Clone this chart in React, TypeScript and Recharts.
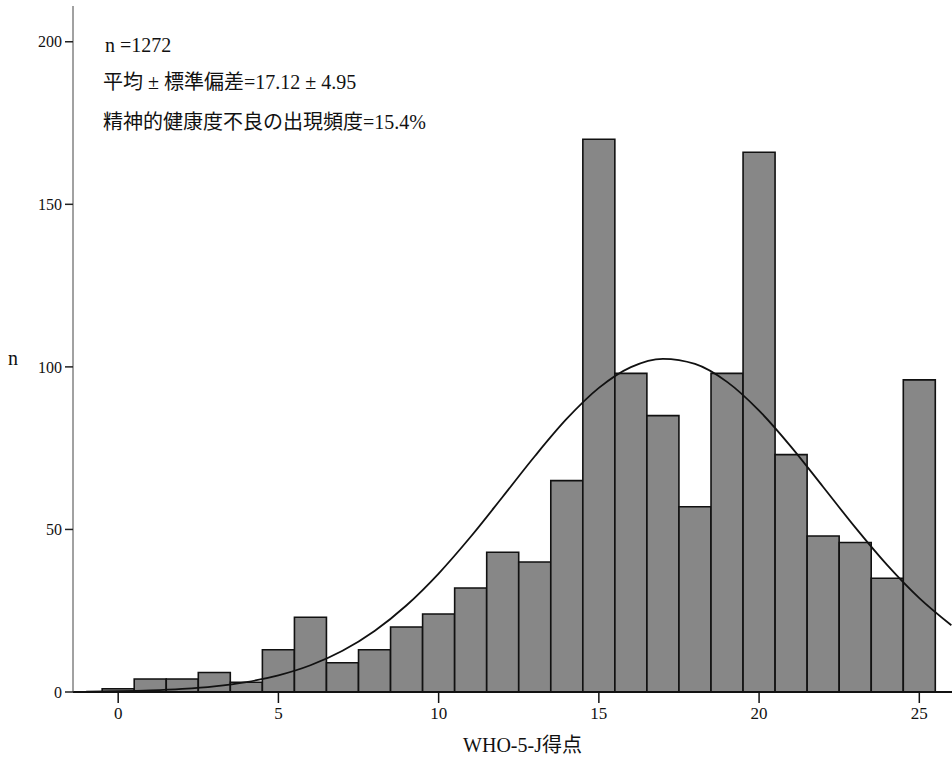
import React from 'react';
import { ComposedChart, Bar, Line, XAxis, YAxis, Label } from 'recharts';

// WHO-5-J score histogram (bin = 1 point) with the fitted normal curve
const scores = [0, 1, 2, 3, 4, 5, 6, 7, 8, 9, 10, 11, 12, 13, 14, 15, 16, 17, 18, 19, 20, 21, 22, 23, 24, 25];
const counts = [1, 4, 4, 6, 3, 13, 23, 9, 13, 20, 24, 32, 43, 40, 65, 170, 98, 85, 57, 98, 166, 73, 48, 46, 35, 96];

// normal curve, sampled once per score point
const curveX = [-1, 0, 1, 2, 3, 4, 5, 6, 7, 8, 9, 10, 11, 12, 13, 14, 15, 16, 17, 18, 19, 20, 21, 22, 23, 24, 25, 26];
const curveN = [0.13, 0.26, 0.51, 0.97, 1.75, 3.06, 5.12, 8.22, 12.68, 18.78, 26.69, 36.44, 47.74, 60.05, 72.51, 84.05, 93.54, 99.93, 102.49, 100.91, 95.39, 86.55, 75.41, 63.06, 50.63, 39.02, 28.87, 20.51];

const xTicks = [0, 5, 10, 15, 20, 25];
const yTicks = [0, 50, 100, 150, 200];

const sampleSize = 'n =1272';
const meanSdLabel = ['平均', '±', '標準偏差=17.12', '±', '4.95'];
const poorHealthLabel = '精神的健康度不良の出現頻度=15.4%';
const xTitle = 'WHO-5-J得点';
const yTitle = 'n';

const barRows = scores.map((s, i) => ({ score: s, n: counts[i] }));
const curveRows = curveX.map((x, i) => ({ score: x, fit: curveN[i] }));

const FONT = '"Liberation Serif", "Times New Roman", "Noto Sans CJK JP", serif';

export default function App() {
  const noteStyle: React.CSSProperties = {
    position: 'absolute',
    left: 103,
    fontFamily: FONT,
    fontSize: 20,
    lineHeight: '20px',
    color: '#111',
    whiteSpace: 'nowrap',
  };
  return (
    <div style={{ position: 'absolute', left: 0, top: 0, width: 952, height: 765, background: '#fff', overflow: 'hidden', fontFamily: FONT }}>
      <ComposedChart
        width={952}
        height={765}
        data={barRows}
        margin={{ top: 6, right: 0, bottom: 43, left: 13 }}
        barCategoryGap={0}
        barGap={0}
        style={{ fontFamily: FONT }}
      >
        <XAxis
          dataKey="score"
          type="number"
          domain={[-1.41, 26.02]}
          allowDataOverflow
          ticks={xTicks}
          interval={0}
          height={30}
          tickSize={11}
          tickMargin={4}
          tick={{ fill: '#111', fontSize: 17, fontFamily: FONT }}
          tickLine={{ stroke: '#111', strokeWidth: 1.5 }}
          axisLine={{ stroke: '#111', strokeWidth: 2 }}
        >
          <Label value={xTitle} position="bottom" offset={16} dx={10} fill="#111" fontSize={20} fontFamily={FONT} />
        </XAxis>
        <YAxis
          type="number"
          domain={[0, 211]}
          allowDataOverflow
          ticks={yTicks}
          interval={0}
          width={60}
          tickSize={8}
          tickMargin={3}
          tick={{ fill: '#111', fontSize: 16, fontFamily: FONT }}
          tickLine={{ stroke: '#222', strokeWidth: 1.5 }}
          axisLine={{ stroke: '#444', strokeWidth: 1 }}
        >
          <Label value={yTitle} position="insideLeft" offset={-5} dy={9} fill="#111" fontSize={20} fontFamily={FONT} />
        </YAxis>
        <Bar
          dataKey="n"
          barSize={32}
          fill="#878787"
          stroke="#111"
          strokeWidth={1.6}
          isAnimationActive={false}
        />
        <Line
          data={curveRows}
          dataKey="fit"
          type="monotone"
          dot={false}
          activeDot={false}
          stroke="#111"
          strokeWidth={1.8}
          isAnimationActive={false}
        />
      </ComposedChart>
      <div style={{ ...noteStyle, top: 35, left: 105 }}>{sampleSize}</div>
      <div style={{ ...noteStyle, top: 72 }}>
        {meanSdLabel[0]}
        <span style={{ margin: '0 5px' }}>{meanSdLabel[1]}</span>
        {meanSdLabel[2]}
        <span style={{ margin: '0 5px' }}>{meanSdLabel[3]}</span>
        {meanSdLabel[4]}
      </div>
      <div style={{ ...noteStyle, top: 112 }}>{poorHealthLabel}</div>
    </div>
  );
}
